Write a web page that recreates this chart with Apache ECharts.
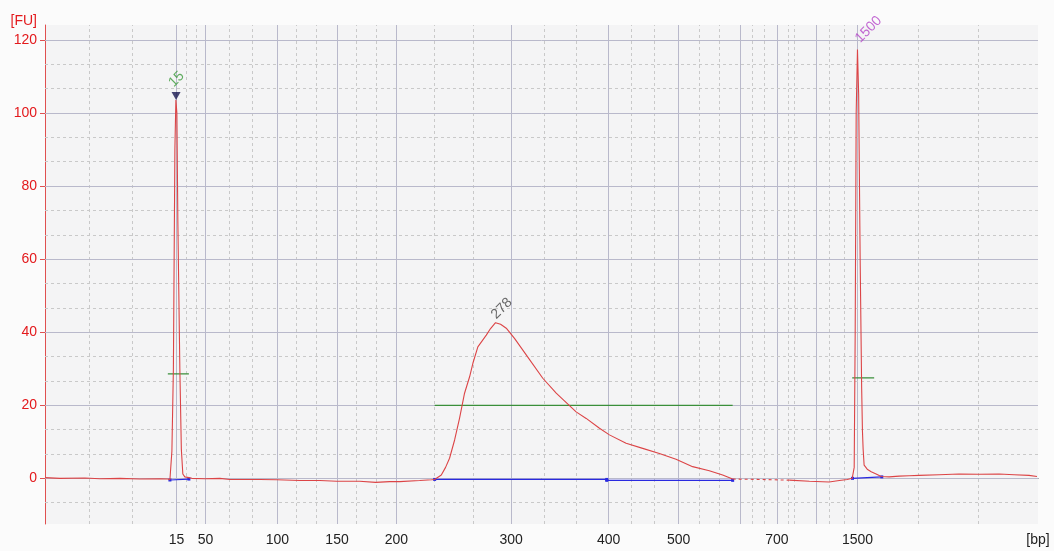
<!DOCTYPE html>
<html>
<head>
<meta charset="utf-8">
<script src="https://cdn.jsdelivr.net/npm/echarts@6/dist/echarts.min.js"></script>
<style>
html,body{margin:0;padding:0;background:#fbfbfb;}
#chart{width:1054px;height:551px;}
</style>
</head>
<body>
<div id="chart"></div>
<script>
// ---- DATA (x = migration time in s, y = fluorescence units) ----
const xAxisStart = 20;
const xAxisEnd = 120;
const xAxisUnit = '[bp]';
const xTickTimes  = [33.25, 36.17, 43.41, 49.41, 55.38, 66.95, 76.77, 83.81, 89.99, 93.71, 97.64, 101.82];
const xTickLabels = ['15', '50', '100', '150', '200', '300', '400', '500', '', '700', '', '1500'];
const xMinorTimes = [24.43, 28.82, 34.26, 35.26, 38.58, 40.90, 45.32, 47.33, 51.36, 53.37, 59.24, 63.09,
                     70.23, 73.49, 79.08, 81.37, 85.90, 87.91, 91.26, 92.43, 94.88, 95.45, 98.97, 100.50,
                     107.93, 113.99];
const yTickValues  = [0, 20, 40, 60, 80, 100, 120];
const yMinorValues = [-6.67, 6.67, 13.33, 26.67, 33.33, 46.67, 53.33, 66.67, 73.33, 86.67, 93.33, 106.67, 113.33];

// electropherogram trace [time, FU]
const traceStart = [
  [20.00, 0.2], [21.51, 0.0], [24.02, 0.1], [25.53, -0.1], [27.55, 0.0], [29.56, -0.2], [31.57, -0.1],
  [32.37, -0.2], [32.58, -0.4], [32.78, 7.5], [32.93, 30], [33.08, 90], [33.18, 103.6], [33.28, 100],
  [33.38, 70], [33.58, 30], [33.73, 8], [33.88, 1.2], [34.08, 0.4], [34.28, 0.6], [34.49, 0.2],
  [34.79, 0.0], [36.10, -0.1], [37.61, 0.0], [38.61, -0.3], [41.63, -0.3], [43.34, -0.4], [45.65, -0.6],
  [47.67, -0.6], [49.38, -0.8], [51.69, -0.8], [53.30, -1.1], [54.71, -0.9], [55.71, -0.9], [57.73, -0.6],
  [58.93, -0.4], [59.24, -0.3], [59.91, 0.9], [60.34, 3.0], [60.74, 5.5], [61.25, 10.5], [61.75, 16.5],
  [62.25, 23.3], [62.76, 27.8], [63.09, 31.5], [63.59, 36.0], [64.44, 39.2], [64.87, 41.0], [65.37, 42.6],
  [65.88, 42.2], [66.45, 41.1], [67.28, 38.3], [68.46, 33.8], [70.13, 27.4], [71.48, 23.3], [72.82, 19.9],
  [73.49, 18.2], [74.50, 16.4], [75.84, 13.7], [76.84, 11.9], [78.52, 9.6], [80.19, 8.2], [81.87, 6.8],
  [83.55, 5.2], [85.22, 3.2], [86.90, 2.1], [88.24, 0.9], [89.25, -0.2]
];
const traceGap = [[89.25, -0.2], [89.42, -0.3], [91.93, -0.3], [94.95, -0.5]];
const traceEnd = [
  [94.95, -0.5], [96.98, -0.8], [98.97, -1.0], [99.99, -0.6], [100.79, -0.3], [101.29, 0.0], [101.49, 3],
  [101.59, 40], [101.69, 100], [101.82, 117.4], [101.94, 105], [102.09, 60], [102.24, 25], [102.32, 13],
  [102.39, 8], [102.49, 3.6], [102.80, 2.5], [103.20, 1.8], [103.70, 1.2], [104.21, 0.5], [105.01, 0.4],
  [106.02, 0.6], [107.02, 0.7], [108.03, 0.8], [110.04, 1.0], [112.05, 1.2], [114.07, 1.1], [116.08, 1.2],
  [117.59, 1.0], [119.09, 0.8], [119.90, 0.5]
];
// peak baselines and widths
const baseline15   = [[32.58, -0.45], [34.49, -0.2]];
const baselineMainA = [[59.24, -0.3], [76.57, -0.3]];
const baselineMainB = [[76.57, -0.55], [89.25, -0.55]];
const baseline1500 = [[101.32, 0.0], [104.27, 0.4]];
const width15   = [[32.37, 28.6], [34.49, 28.6]];
const widthMain = [[59.24, 20.0], [89.25, 20.0]];
const width1500 = [[101.29, 27.5], [103.50, 27.5]];
// peak annotations
const peakTimes  = [33.2, 65.37, 101.82];
const peakValues = [103.6, 42.6, 117.4];
const peakTexts  = ['15', '278', '1500'];

// ---- STYLES ----
const peakLabelStyles = [
  {color: '#3a9a3a', position: [-5, -15]},
  {color: '#444444', position: [-2, -6]},
  {color: '#b444c8', position: [0, -9]}
];
const RED = '#e3191c';
const solidGrid = {type: 'solid', color: '#b9b9cb', width: 1};
const dashGrid = {type: [3, 3], color: '#c9c9c9', width: 1};

const gridLines = [];
xTickTimes.forEach(t => gridLines.push({xAxis: t, lineStyle: solidGrid}));
xMinorTimes.forEach(t => gridLines.push({xAxis: t, lineStyle: dashGrid}));
yTickValues.forEach(v => gridLines.push({yAxis: v, lineStyle: solidGrid}));
yMinorValues.forEach(v => gridLines.push({yAxis: v, lineStyle: dashGrid}));

function xLabel(v) {
  if (Math.abs(v - xAxisEnd) < 1e-6) return xAxisUnit;
  let best = 0;
  for (let i = 1; i < xTickTimes.length; i++) {
    if (Math.abs(xTickTimes[i] - v) < Math.abs(xTickTimes[best] - v)) best = i;
  }
  return xTickLabels[best];
}

function segSeries(data, color, withMarks) {
  return {
    type: 'line', data: data, z: 4, silent: true, animation: false,
    symbol: withMarks ? 'rect' : 'none', symbolSize: 3, showSymbol: !!withMarks,
    itemStyle: {color: color}, lineStyle: {color: color, width: 1.2}
  };
}

const chart = echarts.init(document.getElementById('chart'));
chart.setOption({
  backgroundColor: '#fbfbfb',
  animation: false,
  grid: {left: 45, right: 16, top: 25, bottom: 27, show: true, backgroundColor: '#f4f4f5', borderWidth: 0},
  xAxis: {
    type: 'value', min: xAxisStart, max: xAxisEnd,
    axisLine: {show: true, lineStyle: {color: '#444', width: 1}},
    axisTick: {show: true, length: 5, customValues: xTickTimes, lineStyle: {color: '#444'}},
    axisLabel: {
      customValues: xTickTimes.filter((t, i) => xTickLabels[i] !== '').concat([xAxisEnd]),
      formatter: v => xLabel(v),
      showMaxLabel: true, hideOverlap: false,
      margin: 9, fontFamily: 'Liberation Sans', fontSize: 14, color: '#222'
    },
    splitLine: {show: false}
  },
  yAxis: {
    type: 'value', min: -12.5, max: 124.1,
    name: '[FU]', nameLocation: 'end', nameGap: 4, nameMoveOverlap: false,
    nameTextStyle: {fontFamily: 'Liberation Sans', fontSize: 14, color: RED, align: 'right', verticalAlign: 'middle', padding: [0, 8, 0, 0]},
    axisLine: {show: true, lineStyle: {color: '#e05050', width: 1}},
    axisTick: {show: true, length: 5, customValues: yTickValues, lineStyle: {color: '#e05050'}},
    axisLabel: {customValues: yTickValues, margin: 8, fontFamily: 'Liberation Sans', fontSize: 14, color: RED},
    splitLine: {show: false}
  },
  series: [
    {
      type: 'line', data: [], silent: true,
      markLine: {z: 1, silent: true, symbol: ['none', 'none'], animation: false, label: {show: false}, data: gridLines}
    },
    segSeries(width15, '#3a8f3a', false),
    segSeries(widthMain, '#3a8f3a', false),
    segSeries(width1500, '#3a8f3a', false),
    {type: 'line', data: traceStart, z: 5, symbol: 'none', silent: true, lineStyle: {color: '#dc4446', width: 1.1}},
    {type: 'line', data: traceGap, z: 5, symbol: 'none', silent: true, lineStyle: {color: '#dc4446', width: 1.1, type: [3, 3]}},
    {type: 'line', data: traceEnd, z: 5, symbol: 'none', silent: true, lineStyle: {color: '#dc4446', width: 1.1}},
    segSeries(baseline15, '#2a2ae0', true),
    segSeries(baselineMainA, '#2a2ae0', true),
    segSeries(baselineMainB, '#2a2ae0', true),
    segSeries(baseline1500, '#2a2ae0', true),
    {
      type: 'scatter', z: 6, silent: true,
      data: [[peakTimes[0], peakValues[0]]],
      symbol: 'triangle', symbolRotate: 180, symbolSize: [9, 8], symbolOffset: [0, -4],
      itemStyle: {color: '#161650'}
    },
    {
      type: 'scatter', z: 7, silent: true, symbolSize: 0,
      data: peakTimes.map((t, i) => ({
        value: [t, peakValues[i]],
        label: {
          show: true, formatter: peakTexts[i], rotate: 45,
          position: peakLabelStyles[i].position, align: 'left', verticalAlign: 'middle',
          color: peakLabelStyles[i].color, fontFamily: 'Liberation Sans', fontSize: 14
        }
      }))
    }
  ]
});
</script>
</body>
</html>
